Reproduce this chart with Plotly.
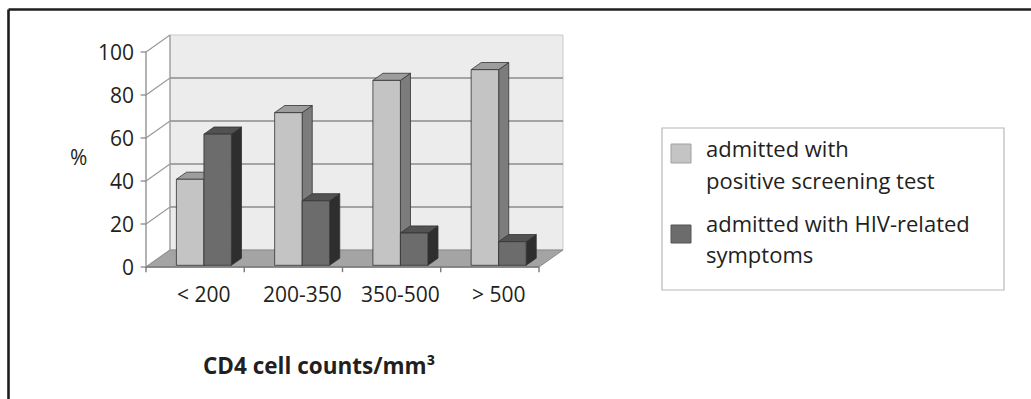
import plotly.graph_objects as go

# ---- data -------------------------------------------------------------
categories = ["< 200", "200-350", "350-500", "> 500"]
screening_test = [40, 71, 86, 91]   # admitted with positive screening test (%)
hiv_symptoms = [61, 30, 15, 11]     # admitted with HIV-related symptoms (%)
y_ticks = [0, 20, 40, 60, 80, 100]
legend_lines = [
    ["admitted with", "positive screening test"],
    ["admitted with HIV-related", "symptoms"],
]

# ---- geometry of the pseudo-3D box ------------------------------------
W, H = 1031, 399
X0, Y0 = 146, 267            # pixel position of the front origin
PX_CAT, PX_UNIT = 98.25, 2.15  # pixels per category / per percent
DX, DY = 24 / PX_CAT, 17 / PX_UNIT   # full depth vector in data units
Y_MAX = 100
N = len(categories)

GROUP_START, BAR_W = 0.285, 0.28
BAR_D0, BAR_D1 = 0.10, 0.52

FONT = "Open Sans"
TXT = "#231f20"

light = dict(front="#c4c4c4", top="#9d9d9d", side="#7c7c7c")
dark = dict(front="#6c6c6c", top="#525252", side="#2e2e2e")
EDGE = "#333333"


def at(x, v, d):
    return x + d * DX, v + d * DY


def polygon(points, fill, edge, width=1.0):
    xs = [p[0] for p in points] + [points[0][0]]
    ys = [p[1] for p in points] + [points[0][1]]
    return go.Scatter(x=xs, y=ys, mode="lines", fill="toself", fillcolor=fill,
                      line=dict(color=edge, width=width), hoverinfo="skip",
                      showlegend=False)


def segments(segs, color, width):
    xs, ys = [], []
    for a, b in segs:
        xs += [a[0], b[0], None]
        ys += [a[1], b[1], None]
    return go.Scatter(x=xs, y=ys, mode="lines", line=dict(color=color, width=width),
                      hoverinfo="skip", showlegend=False)


fig = go.Figure()

# back wall
fig.add_trace(polygon([at(0, 0, 1), at(N, 0, 1), at(N, Y_MAX, 1), at(0, Y_MAX, 1)],
                      "#ececec", "#c9c9c9", 1))
# gridlines on the back wall
fig.add_trace(segments([(at(0, v, 1), at(N, v, 1)) for v in y_ticks[1:-1]], "#8c8c8c", 1.6))
# floor
fig.add_trace(polygon([at(0, 0, 0), at(N, 0, 0), at(N, 0, 1), at(0, 0, 1)],
                      "#a4a4a4", "#8a8a8a", 1))
# open side wall: receding gridlines and back edge
side = [(at(0, v, 0), at(0, v, 1)) for v in y_ticks]
side.append((at(0, 0, 1), at(0, Y_MAX, 1)))
fig.add_trace(segments(side, "#9a9a9a", 1.2))
# value axis with outside ticks
yax = [(at(0, 0, 0), at(0, Y_MAX, 0))] + [((-0.055, v), (0, v)) for v in y_ticks]
fig.add_trace(segments(yax, "#8a8a8a", 1.3))
# category axis with boundary ticks
xax = [(at(0, 0, 0), at(N, 0, 0))] + [((k, 0), (k, -2.4)) for k in range(N + 1)]
fig.add_trace(segments(xax, "#7a7a7a", 1.4))

# bars: front, top and side faces, painted left to right
for k in range(N):
    for j, (val, col) in enumerate([(screening_test[k], light), (hiv_symptoms[k], dark)]):
        x0 = k + GROUP_START + j * BAR_W
        x1 = x0 + BAR_W
        front = [at(x0, 0, BAR_D0), at(x1, 0, BAR_D0), at(x1, val, BAR_D0), at(x0, val, BAR_D0)]
        top = [at(x0, val, BAR_D0), at(x1, val, BAR_D0), at(x1, val, BAR_D1), at(x0, val, BAR_D1)]
        sidef = [at(x1, 0, BAR_D0), at(x1, val, BAR_D0), at(x1, val, BAR_D1), at(x1, 0, BAR_D1)]
        fig.add_trace(polygon(sidef, col["side"], EDGE, 0.8))
        fig.add_trace(polygon(top, col["top"], EDGE, 0.8))
        fig.add_trace(polygon(front, col["front"], EDGE, 0.8))

annotations = []
# value tick labels
for v in y_ticks:
    annotations.append(dict(x=0, y=v, xref="x", yref="y", text=str(v), showarrow=False,
                            xanchor="right", yanchor="middle", xshift=-10,
                            font=dict(family=FONT, size=21, color=TXT)))
# category labels under each pair of bars
for k, c in enumerate(categories):
    cx = at(k + GROUP_START + BAR_W, 0, BAR_D0)[0]
    annotations.append(dict(x=cx, y=0, xref="x", yref="y", text=c, showarrow=False,
                            xanchor="center", yanchor="middle", yshift=-27,
                            font=dict(family=FONT, size=21, color=TXT)))
# axis titles
annotations.append(dict(x=78 / W, y=1 - 157 / H, xref="paper", yref="paper", text="%",
                        showarrow=False, xanchor="center", yanchor="middle",
                        font=dict(family=FONT, size=21, color=TXT)))
annotations.append(dict(x=319 / W, y=1 - 365 / H, xref="paper", yref="paper",
                        text="<b>CD4 cell counts/mm³</b>", showarrow=False,
                        xanchor="center", yanchor="middle",
                        font=dict(family=FONT, size=22.5, color=TXT)))

# legend
shapes = []
shapes.append(dict(type="rect", xref="paper", yref="paper", x0=662 / W, x1=1004 / W,
                   y0=1 - 290 / H, y1=1 - 128 / H, line=dict(color="#b8b8b8", width=1.2),
                   fillcolor="white", layer="below"))
swatches = [(light["front"], "#a0a0a0", 144, 163), (dark["front"], "#555555", 225, 243)]
for fill, edge, t, b in swatches:
    shapes.append(dict(type="rect", xref="paper", yref="paper", x0=671 / W, x1=691 / W,
                       y0=1 - b / H, y1=1 - t / H, line=dict(color=edge, width=1),
                       fillcolor=fill))
baselines = [[157, 188], [231, 262]]
for lines, bls in zip(legend_lines, baselines):
    for txt, bl in zip(lines, bls):
        annotations.append(dict(x=704 / W, y=1 - (bl - 8.5) / H, xref="paper", yref="paper",
                                text=txt, showarrow=False, xanchor="left", yanchor="middle",
                                font=dict(family=FONT, size=22, color=TXT)))

# outer frame (top and left rules)
shapes.append(dict(type="line", xref="paper", yref="paper", x0=8.5 / W, x1=1,
                   y0=1 - 9.5 / H, y1=1 - 9.5 / H, line=dict(color="#1e1e1e", width=2.6)))
shapes.append(dict(type="line", xref="paper", yref="paper", x0=8.5 / W, x1=8.5 / W,
                   y0=0, y1=1 - 9.5 / H, line=dict(color="#1e1e1e", width=2.6)))

fig.update_layout(
    width=W, height=H,
    margin=dict(l=0, r=0, t=0, b=0),
    paper_bgcolor="white", plot_bgcolor="white",
    showlegend=False,
    xaxis=dict(range=[-X0 / PX_CAT, (W - X0) / PX_CAT], visible=False, fixedrange=True),
    yaxis=dict(range=[-(H - Y0) / PX_UNIT, Y0 / PX_UNIT], visible=False, fixedrange=True),
    annotations=annotations,
    shapes=shapes,
)

fig.write_html("out.html")
